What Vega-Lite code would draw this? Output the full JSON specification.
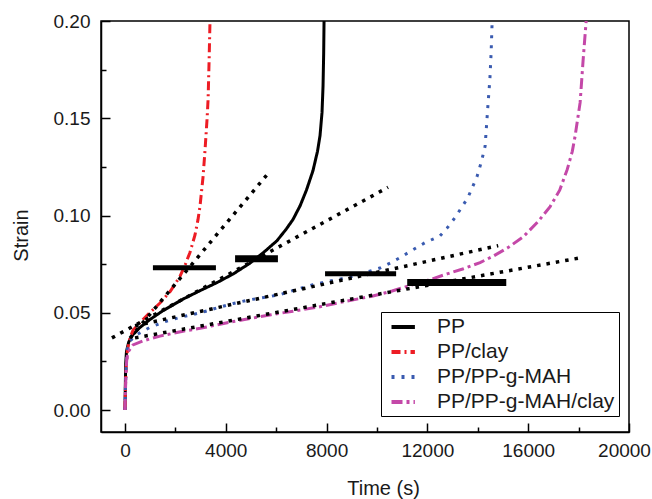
{
  "$schema": "https://vega.github.io/schema/vega-lite/v6.json",
  "width": 528,
  "height": 411,
  "autosize": {"type": "none"},
  "padding": {"left": 101, "top": 21, "right": 23, "bottom": 67},
  "background": "white",
  "config": {
    "font": "Liberation Sans",
    "view": {"stroke": "black", "strokeWidth": 1.5},
    "axis": {
      "domainColor": "black",
      "domainWidth": 1.5,
      "tickColor": "black",
      "tickWidth": 1.5,
      "grid": false,
      "labelFlush": false,
      "labelOverlap": false,
      "labelFont": "Liberation Sans",
      "labelFontSize": 19,
      "labelColor": "#1a1a1a",
      "titleFont": "Liberation Sans",
      "titleFontSize": 20,
      "titleFontWeight": "normal",
      "titleColor": "#1a1a1a"
    }
  },
  "datasets": {
    "curves": [
      {"series": "PP", "t": 0, "strain": 0},
      {"series": "PP", "t": 15, "strain": 0.012},
      {"series": "PP", "t": 30, "strain": 0.024},
      {"series": "PP", "t": 60, "strain": 0.03},
      {"series": "PP", "t": 150, "strain": 0.035},
      {"series": "PP", "t": 300, "strain": 0.0385},
      {"series": "PP", "t": 600, "strain": 0.0425},
      {"series": "PP", "t": 990, "strain": 0.0465},
      {"series": "PP", "t": 1500, "strain": 0.051},
      {"series": "PP", "t": 2300, "strain": 0.057},
      {"series": "PP", "t": 3000, "strain": 0.0615},
      {"series": "PP", "t": 3650, "strain": 0.0655},
      {"series": "PP", "t": 4300, "strain": 0.07},
      {"series": "PP", "t": 4960, "strain": 0.0755},
      {"series": "PP", "t": 5500, "strain": 0.081},
      {"series": "PP", "t": 6030, "strain": 0.087},
      {"series": "PP", "t": 6400, "strain": 0.093},
      {"series": "PP", "t": 6670, "strain": 0.098},
      {"series": "PP", "t": 6950, "strain": 0.105},
      {"series": "PP", "t": 7200, "strain": 0.113},
      {"series": "PP", "t": 7460, "strain": 0.123},
      {"series": "PP", "t": 7640, "strain": 0.133},
      {"series": "PP", "t": 7740, "strain": 0.141},
      {"series": "PP", "t": 7820, "strain": 0.153},
      {"series": "PP", "t": 7860, "strain": 0.1665},
      {"series": "PP", "t": 7885, "strain": 0.183},
      {"series": "PP", "t": 7900, "strain": 0.2},
      {"series": "PP/clay", "t": 0, "strain": 0},
      {"series": "PP/clay", "t": 20, "strain": 0.012},
      {"series": "PP/clay", "t": 50, "strain": 0.022},
      {"series": "PP/clay", "t": 100, "strain": 0.031},
      {"series": "PP/clay", "t": 200, "strain": 0.037},
      {"series": "PP/clay", "t": 320, "strain": 0.041},
      {"series": "PP/clay", "t": 600, "strain": 0.045},
      {"series": "PP/clay", "t": 900, "strain": 0.049},
      {"series": "PP/clay", "t": 1390, "strain": 0.055},
      {"series": "PP/clay", "t": 1800, "strain": 0.061},
      {"series": "PP/clay", "t": 2180, "strain": 0.0686},
      {"series": "PP/clay", "t": 2400, "strain": 0.075},
      {"series": "PP/clay", "t": 2580, "strain": 0.081},
      {"series": "PP/clay", "t": 2780, "strain": 0.09},
      {"series": "PP/clay", "t": 2900, "strain": 0.098},
      {"series": "PP/clay", "t": 2980, "strain": 0.105},
      {"series": "PP/clay", "t": 3100, "strain": 0.12},
      {"series": "PP/clay", "t": 3180, "strain": 0.134},
      {"series": "PP/clay", "t": 3260, "strain": 0.15},
      {"series": "PP/clay", "t": 3300, "strain": 0.16},
      {"series": "PP/clay", "t": 3340, "strain": 0.18},
      {"series": "PP/clay", "t": 3375, "strain": 0.2},
      {"series": "PP/PP-g-MAH", "t": 0, "strain": 0},
      {"series": "PP/PP-g-MAH", "t": 20, "strain": 0.012},
      {"series": "PP/PP-g-MAH", "t": 50, "strain": 0.022},
      {"series": "PP/PP-g-MAH", "t": 90, "strain": 0.031},
      {"series": "PP/PP-g-MAH", "t": 200, "strain": 0.0355},
      {"series": "PP/PP-g-MAH", "t": 500, "strain": 0.039},
      {"series": "PP/PP-g-MAH", "t": 990, "strain": 0.0425},
      {"series": "PP/PP-g-MAH", "t": 1600, "strain": 0.0455},
      {"series": "PP/PP-g-MAH", "t": 2300, "strain": 0.048},
      {"series": "PP/PP-g-MAH", "t": 3000, "strain": 0.05},
      {"series": "PP/PP-g-MAH", "t": 3650, "strain": 0.0525},
      {"series": "PP/PP-g-MAH", "t": 4300, "strain": 0.0548},
      {"series": "PP/PP-g-MAH", "t": 4960, "strain": 0.0567},
      {"series": "PP/PP-g-MAH", "t": 5600, "strain": 0.058},
      {"series": "PP/PP-g-MAH", "t": 6150, "strain": 0.0593},
      {"series": "PP/PP-g-MAH", "t": 6800, "strain": 0.062},
      {"series": "PP/PP-g-MAH", "t": 7460, "strain": 0.0644},
      {"series": "PP/PP-g-MAH", "t": 8100, "strain": 0.0662},
      {"series": "PP/PP-g-MAH", "t": 8800, "strain": 0.068},
      {"series": "PP/PP-g-MAH", "t": 9500, "strain": 0.0705},
      {"series": "PP/PP-g-MAH", "t": 10120, "strain": 0.073},
      {"series": "PP/PP-g-MAH", "t": 10600, "strain": 0.076},
      {"series": "PP/PP-g-MAH", "t": 11000, "strain": 0.079},
      {"series": "PP/PP-g-MAH", "t": 11440, "strain": 0.0825},
      {"series": "PP/PP-g-MAH", "t": 11900, "strain": 0.086},
      {"series": "PP/PP-g-MAH", "t": 12500, "strain": 0.0895},
      {"series": "PP/PP-g-MAH", "t": 12780, "strain": 0.0935},
      {"series": "PP/PP-g-MAH", "t": 13100, "strain": 0.099},
      {"series": "PP/PP-g-MAH", "t": 13300, "strain": 0.103},
      {"series": "PP/PP-g-MAH", "t": 13600, "strain": 0.109},
      {"series": "PP/PP-g-MAH", "t": 13970, "strain": 0.12},
      {"series": "PP/PP-g-MAH", "t": 14150, "strain": 0.128},
      {"series": "PP/PP-g-MAH", "t": 14290, "strain": 0.1356},
      {"series": "PP/PP-g-MAH", "t": 14410, "strain": 0.158},
      {"series": "PP/PP-g-MAH", "t": 14480, "strain": 0.17},
      {"series": "PP/PP-g-MAH", "t": 14530, "strain": 0.184},
      {"series": "PP/PP-g-MAH", "t": 14570, "strain": 0.2},
      {"series": "PP/PP-g-MAH/clay", "t": 0, "strain": 0},
      {"series": "PP/PP-g-MAH/clay", "t": 20, "strain": 0.01},
      {"series": "PP/PP-g-MAH/clay", "t": 40, "strain": 0.018},
      {"series": "PP/PP-g-MAH/clay", "t": 70, "strain": 0.026},
      {"series": "PP/PP-g-MAH/clay", "t": 130, "strain": 0.03},
      {"series": "PP/PP-g-MAH/clay", "t": 320, "strain": 0.0335},
      {"series": "PP/PP-g-MAH/clay", "t": 700, "strain": 0.0355},
      {"series": "PP/PP-g-MAH/clay", "t": 1390, "strain": 0.038},
      {"series": "PP/PP-g-MAH/clay", "t": 2300, "strain": 0.0405},
      {"series": "PP/PP-g-MAH/clay", "t": 2980, "strain": 0.042},
      {"series": "PP/PP-g-MAH/clay", "t": 3650, "strain": 0.0438},
      {"series": "PP/PP-g-MAH/clay", "t": 4300, "strain": 0.0455},
      {"series": "PP/PP-g-MAH/clay", "t": 4960, "strain": 0.047},
      {"series": "PP/PP-g-MAH/clay", "t": 5800, "strain": 0.049},
      {"series": "PP/PP-g-MAH/clay", "t": 6670, "strain": 0.0508},
      {"series": "PP/PP-g-MAH/clay", "t": 7700, "strain": 0.053},
      {"series": "PP/PP-g-MAH/clay", "t": 8800, "strain": 0.056},
      {"series": "PP/PP-g-MAH/clay", "t": 9800, "strain": 0.0585},
      {"series": "PP/PP-g-MAH/clay", "t": 10600, "strain": 0.0612},
      {"series": "PP/PP-g-MAH/clay", "t": 11440, "strain": 0.0645},
      {"series": "PP/PP-g-MAH/clay", "t": 12100, "strain": 0.067},
      {"series": "PP/PP-g-MAH/clay", "t": 12780, "strain": 0.07},
      {"series": "PP/PP-g-MAH/clay", "t": 13400, "strain": 0.0725},
      {"series": "PP/PP-g-MAH/clay", "t": 14090, "strain": 0.0758},
      {"series": "PP/PP-g-MAH/clay", "t": 14600, "strain": 0.079},
      {"series": "PP/PP-g-MAH/clay", "t": 15200, "strain": 0.0835},
      {"series": "PP/PP-g-MAH/clay", "t": 15800, "strain": 0.089},
      {"series": "PP/PP-g-MAH/clay", "t": 16400, "strain": 0.097},
      {"series": "PP/PP-g-MAH/clay", "t": 16870, "strain": 0.1046},
      {"series": "PP/PP-g-MAH/clay", "t": 17250, "strain": 0.113},
      {"series": "PP/PP-g-MAH/clay", "t": 17550, "strain": 0.1237},
      {"series": "PP/PP-g-MAH/clay", "t": 17750, "strain": 0.133},
      {"series": "PP/PP-g-MAH/clay", "t": 17860, "strain": 0.1407},
      {"series": "PP/PP-g-MAH/clay", "t": 18060, "strain": 0.158},
      {"series": "PP/PP-g-MAH/clay", "t": 18180, "strain": 0.18},
      {"series": "PP/PP-g-MAH/clay", "t": 18300, "strain": 0.2}
    ],
    "fits": [
      {"fit": "A", "t": 200, "strain": 0.037},
      {"fit": "A", "t": 5640, "strain": 0.121},
      {"fit": "B", "t": -516, "strain": 0.0371},
      {"fit": "B", "t": 10440, "strain": 0.1145},
      {"fit": "C", "t": 400, "strain": 0.0433},
      {"fit": "C", "t": 14810, "strain": 0.0845},
      {"fit": "D", "t": 400, "strain": 0.0371},
      {"fit": "D", "t": 18140, "strain": 0.0784}
    ],
    "bars": [
      {"bar": 1, "t": 1110, "t2": 3610, "strain": 0.0732, "w": 5},
      {"bar": 2, "t": 4370, "t2": 6070, "strain": 0.0778, "w": 7},
      {"bar": 3, "t": 7940, "t2": 10760, "strain": 0.0701, "w": 5},
      {"bar": 4, "t": 11200, "t2": 15130, "strain": 0.0655, "w": 7}
    ]
  },
  "encoding": {
    "x": {
      "field": "t",
      "type": "quantitative",
      "title": "Time (s)",
      "scale": {"domain": [-950, 20000], "nice": false, "zero": false},
      "axis": {
        "values": [0, 2000, 4000, 6000, 8000, 10000, 12000, 14000, 16000, 18000, 20000],
        "labelExpr": "datum.value % 4000 == 0 ? format(datum.value, 'd') : ''",
        "tickSize": {"condition": {"test": "datum.value % 4000 != 0", "value": -5}, "value": -9},
        "labelOffset": {"condition": {"test": "datum.value == 20000", "value": -5}, "value": 0},
        "labelPadding": 18,
        "titlePadding": 14,
        "titleX": 282
      }
    },
    "y": {
      "field": "strain",
      "type": "quantitative",
      "title": "Strain",
      "scale": {"domain": [-0.0113, 0.2], "nice": false, "zero": false},
      "axis": {
        "values": [0, 0.025, 0.05, 0.075, 0.1, 0.125, 0.15, 0.175, 0.2],
        "labelExpr": "round(datum.value * 1000) % 50 == 0 ? format(datum.value, '.2f') : ''",
        "tickSize": {"condition": {"test": "round(datum.value * 1000) % 50 != 0", "value": -5}, "value": -9},
        "labelPadding": 20,
        "titlePadding": 22,
        "titleY": 214
      }
    }
  },
  "layer": [
    {
      "data": {"name": "curves"},
      "mark": {"type": "line", "strokeWidth": 3, "clip": true},
      "encoding": {
        "color": {
          "field": "series",
          "type": "nominal",
          "scale": {
            "domain": ["PP", "PP/clay", "PP/PP-g-MAH", "PP/PP-g-MAH/clay"],
            "range": ["#000000", "#ED1C24", "#3A5BB0", "#C448A8"]
          },
          "legend": {
            "title": null,
            "orient": "none",
            "legendX": 280,
            "legendY": 291,
            "padding": 4,
            "strokeColor": "black",
            "fillColor": "white",
            "symbolType": "M-0.5,0H2.1",
            "symbolSize": 324,
            "symbolStrokeWidth": 4,
            "labelFontSize": 21,
            "labelFont": "Liberation Sans",
            "labelColor": "#1a1a1a",
            "labelLimit": 400,
            "labelOffset": 30,
            "rowPadding": 4
          }
        },
        "strokeDash": {
          "field": "series",
          "type": "nominal",
          "scale": {
            "domain": ["PP", "PP/clay", "PP/PP-g-MAH", "PP/PP-g-MAH/clay"],
            "range": [[1, 0], [9, 4, 2, 4], [3, 7], [11, 4, 3, 4]]
          },
          "legend": {
            "title": null,
            "orient": "none",
            "legendX": 280,
            "legendY": 291,
            "padding": 4,
            "strokeColor": "black",
            "fillColor": "white",
            "symbolType": "M-0.5,0H2.1",
            "symbolSize": 324,
            "symbolStrokeWidth": 4,
            "labelFontSize": 21,
            "labelFont": "Liberation Sans",
            "labelColor": "#1a1a1a",
            "labelLimit": 400,
            "labelOffset": 30,
            "rowPadding": 4
          }
        }
      }
    },
    {
      "data": {"name": "fits"},
      "mark": {"type": "line", "color": "black", "strokeWidth": 3.5, "strokeDash": [3.5, 6]},
      "encoding": {
        "detail": {"field": "fit", "type": "nominal"}
      }
    },
    {
      "data": {"name": "bars"},
      "mark": {"type": "rule", "color": "black"},
      "encoding": {
        "x2": {"field": "t2"},
        "strokeWidth": {"field": "w", "type": "quantitative", "scale": null, "legend": null},
        "detail": {"field": "bar", "type": "nominal"}
      }
    }
  ]
}
